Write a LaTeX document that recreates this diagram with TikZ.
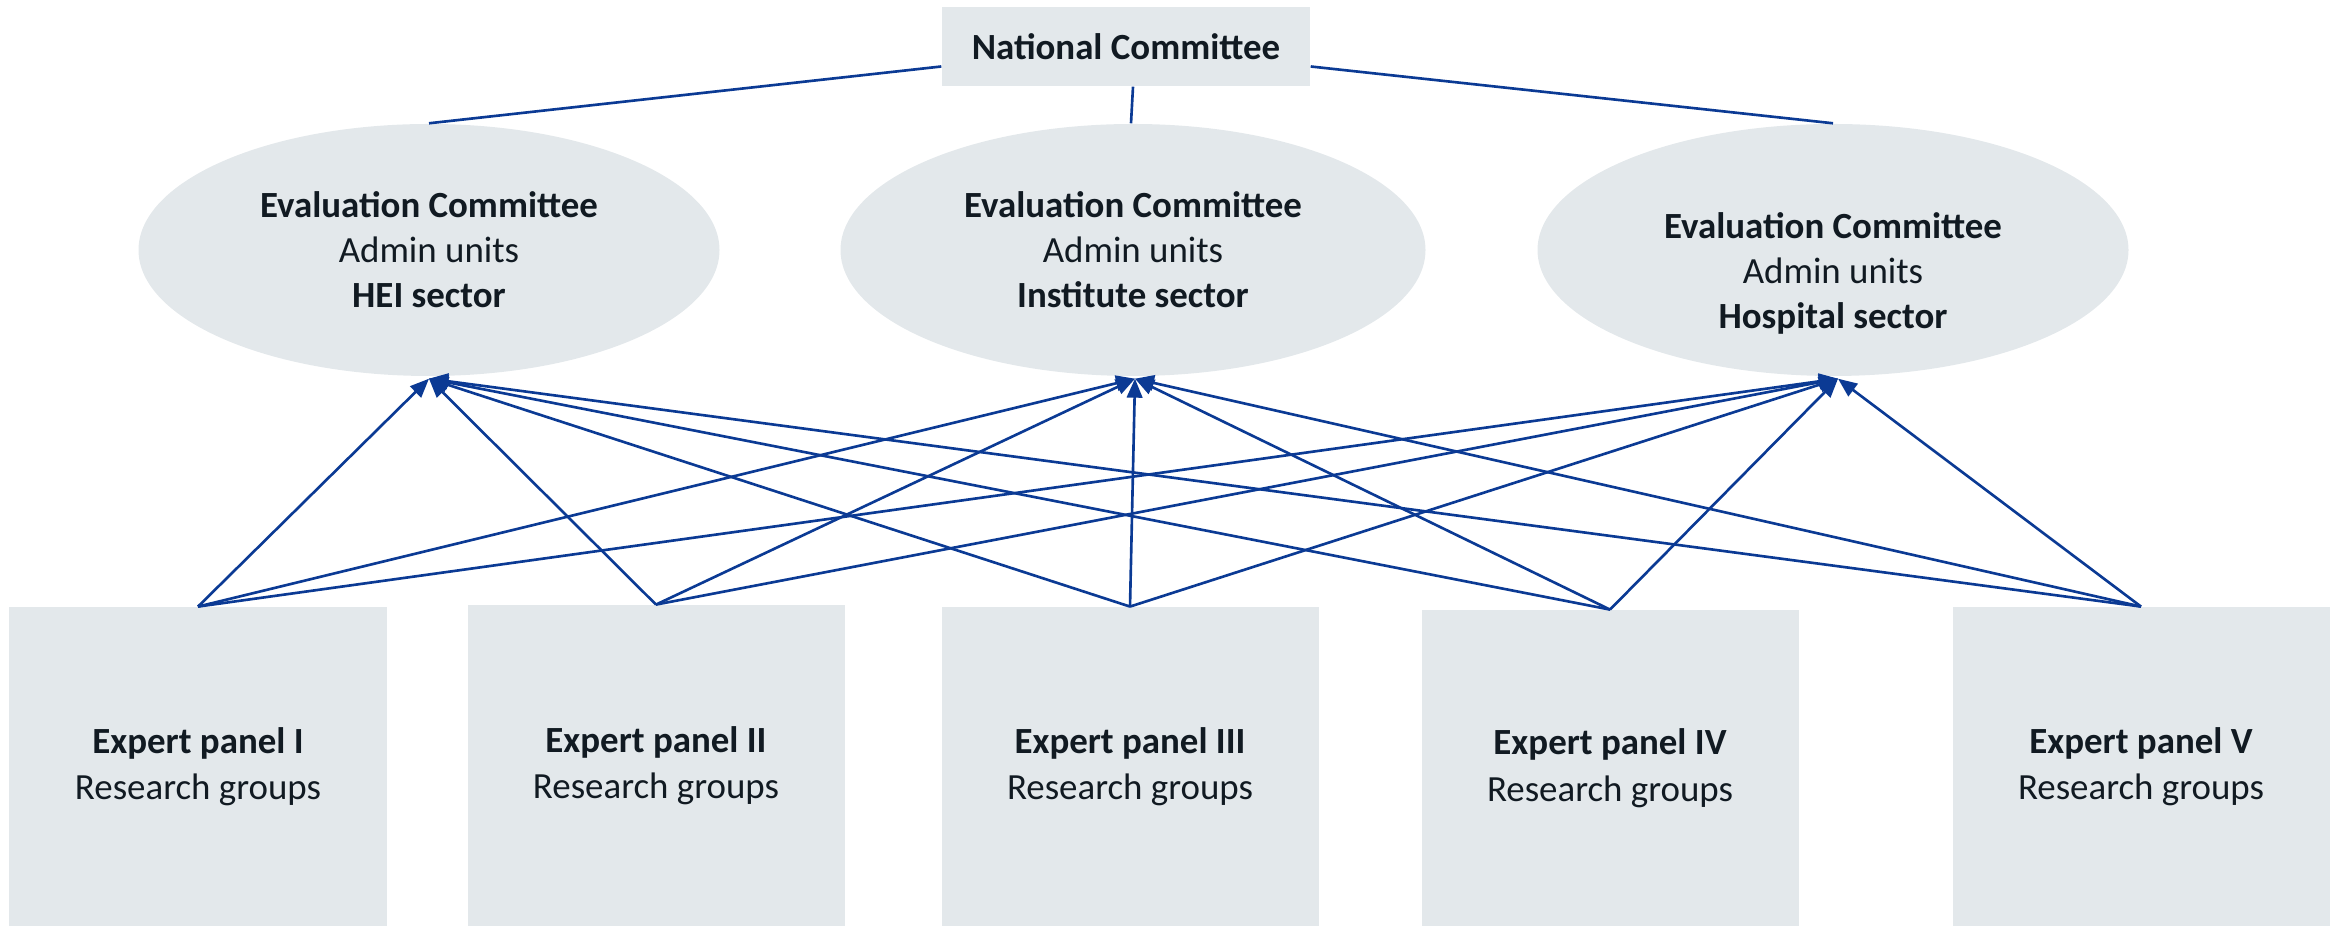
\documentclass[tikz,border=0pt]{standalone}
\usepackage{fontspec}
\setmainfont{Carlito}
\usetikzlibrary{arrows.meta,shapes.geometric}
\definecolor{boxfill}{HTML}{E3E8EB}
\definecolor{link}{HTML}{0B3A94}
\definecolor{ink}{HTML}{111A22}

\begin{document}
\begin{tikzpicture}[font=\fontsize{10.5}{12.8}\selectfont, text=ink,
  topbox/.style={fill=boxfill, minimum width=3.68cm, minimum height=0.79cm, inner sep=0pt, font=\fontsize{10.5}{12.8}\selectfont\bfseries},
  evbox/.style={ellipse, fill=boxfill, minimum width=5.85cm, minimum height=2.52cm, inner sep=0pt},
  evtext/.style={align=center, inner sep=0pt},
  panel/.style={fill=boxfill, anchor=south, minimum width=3.77cm, minimum height=3.19cm, align=center, inner sep=0pt, font=\fontsize{10.5}{13.2}\selectfont},
  tie/.style={draw=link, line width=0.75pt},
  feed/.style={-{Triangle[length=5.4pt, width=4.4pt]}, line width=0.75pt, draw=link}]

\useasboundingbox (0,0) rectangle (23.41,9.27);

% ---- national level
\node[topbox] (nat) at (11.26,8.805) {National Committee};

% ---- evaluation committees (y centre 6.77)
\node[evbox, minimum width=5.81cm] (ev1) at (4.29,6.77) {};
\node[evbox] (ev2) at (11.33,6.77) {};
\node[evbox, minimum width=5.91cm] (ev3) at (18.33,6.77) {};
\node[evtext] (ev1txt) at (ev1.center) {\textbf{Evaluation Committee}\\ Admin units\\ \textbf{HEI sector}};
\node[evtext] (ev2txt) at (ev2.center) {\textbf{Evaluation Committee}\\ Admin units\\ \textbf{Institute sector}};
\node[evtext] (ev3txt) at ([yshift=-0.23cm]ev3.center) {\textbf{Evaluation Committee}\\ Admin units\\ \textbf{Hospital sector}};
\coordinate (in1) at ([yshift=-0.02cm]ev1.south);
\coordinate (in2) at ([xshift=0.02cm, yshift=-0.02cm]ev2.south);
\coordinate (in3) at ([xshift=0.05cm, yshift=-0.02cm]ev3.south);

% ---- expert panels, standing on the bottom edge
\node[panel] (p1) at (1.98,0) {\textbf{Expert panel I}\\ Research groups};
\node[panel, minimum height=3.21cm] (p2) at (6.56,0) {\textbf{Expert panel II}\\ Research groups};
\node[panel] (p3) at (11.30,0) {\textbf{Expert panel III}\\ Research groups};
\node[panel, minimum height=3.16cm] (p4) at (16.10,0) {\textbf{Expert panel IV}\\ Research groups};
\node[panel] (p5) at (21.41,0) {\textbf{Expert panel V}\\ Research groups};

% ---- national committee to sectors
\draw[tie] ([yshift=-0.2cm]nat.west) -- (ev1.north);
\draw[tie] ([xshift=0.07cm]nat.south) -- ([xshift=-0.02cm]ev2.north);
\draw[tie] ([yshift=-0.2cm]nat.east) -- (ev3.north);

% ---- every panel reports to every sector
\draw[feed] (p1.north) -- (in1);
\draw[feed] (p1.north) -- (in2);
\draw[feed] (p1.north) -- (in3);
\draw[feed] (p2.north) -- (in1);
\draw[feed] (p2.north) -- (in2);
\draw[feed] (p2.north) -- (in3);
\draw[feed] (p3.north) -- (in1);
\draw[feed] (p3.north) -- (in2);
\draw[feed] (p3.north) -- (in3);
\draw[feed] (p4.north) -- (in1);
\draw[feed] (p4.north) -- (in2);
\draw[feed] (p4.north) -- (in3);
\draw[feed] (p5.north) -- (in1);
\draw[feed] (p5.north) -- (in2);
\draw[feed] (p5.north) -- (in3);
\end{tikzpicture}
\end{document}
